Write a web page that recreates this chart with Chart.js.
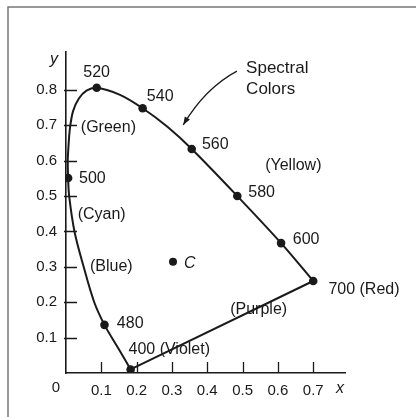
<!DOCTYPE html>
<html><head><meta charset="utf-8">
<script src="https://cdn.jsdelivr.net/npm/chart.js@4/dist/chart.umd.min.js"></script>
<style>html,body{margin:0;padding:0;background:#fff;}</style>
</head><body>
<canvas id="c" width="416" height="417" style="width:416px;height:417px;display:block"></canvas>
<script>
// Spectral locus (from 400 nm through 480, 500, 520 ... to 700 nm)
const locusX = [0.183, 0.148, 0.109, 0.080, 0.050, 0.024, 0.009, 0.006, 0.005, 0.007, 0.011, 0.020, 0.036, 0.058, 0.087, 0.153, 0.217, 0.288, 0.356, 0.485, 0.609, 0.700];
const locusY = [0.010, 0.070, 0.136, 0.200, 0.300, 0.400, 0.500, 0.551, 0.600, 0.640, 0.690, 0.740, 0.775, 0.798, 0.806, 0.786, 0.748, 0.695, 0.633, 0.500, 0.367, 0.260];
// Purple line (700 nm back to 400 nm)
const purpleX = [0.700, 0.183];
const purpleY = [0.260, 0.010];
// Marked wavelengths
const markWl = ['400', '480', '500', '520', '540', '560', '580', '600', '700'];
const markX = [0.183, 0.109, 0.006, 0.087, 0.217, 0.356, 0.485, 0.609, 0.700];
const markY = [0.010, 0.136, 0.551, 0.806, 0.748, 0.633, 0.500, 0.367, 0.260];
// Illuminant C
const cX = [0.303];
const cY = [0.314];
// Axis ticks
const xTicks = [0.1, 0.2, 0.3, 0.4, 0.5, 0.6, 0.7];
const xTickLabels = ['0.1', '0.2', '0.3', '0.4', '0.5', '0.6', '0.7'];
const yTicks = [0.1, 0.2, 0.3, 0.4, 0.5, 0.6, 0.7, 0.8];
const yTickLabels = ['0.1', '0.2', '0.3', '0.4', '0.5', '0.6', '0.7', '0.8'];
// Text labels (anchored at left edge, vertical middle, in data units)
const labelTexts = ['520', '540', '560', '580', '600', '700 (Red)', '480', '500', '400 (Violet)', '(Purple)', '(Yellow)', '(Cyan)', '(Blue)', '(Green)', 'C', 'Spectral', 'Colors'];
const labelX = [0.049, 0.229, 0.385, 0.516, 0.642, 0.743, 0.144, 0.037, 0.177, 0.465, 0.564, 0.033, 0.068, 0.042, 0.334, 0.510, 0.510];
const labelY = [0.849, 0.781, 0.645, 0.509, 0.378, 0.237, 0.141, 0.548, 0.065, 0.180, 0.585, 0.447, 0.301, 0.693, 0.310, 0.861, 0.802];
// Arrow for "Spectral Colors" (start, control, end in data units)
const arrowX = [0.484, 0.394, 0.332];
const arrowY = [0.853, 0.805, 0.701];

const FONT = "'Liberation Sans', Arial, Helvetica, sans-serif";
const INK = '#1a1a1a';
const pts = (xs, ys) => xs.map((x, i) => ({x: x, y: ys[i]}));

const decor = {
  id: 'decor',
  beforeDraw(chart) {
    const ctx = chart.ctx;
    ctx.save();
    ctx.fillStyle = '#fff';
    ctx.fillRect(0, 0, chart.width, chart.height);
    ctx.strokeStyle = '#777';
    ctx.lineWidth = 1.5;
    ctx.beginPath();
    ctx.moveTo(8, 417);
    ctx.lineTo(8, 7);
    ctx.lineTo(416, 7);
    ctx.stroke();
    ctx.restore();
  },
  afterDraw(chart) {
    const ctx = chart.ctx;
    const xs = chart.scales.x, ys = chart.scales.y;
    const left = chart.chartArea.left, bottom = chart.chartArea.bottom;
    ctx.save();
    ctx.strokeStyle = INK;
    ctx.lineWidth = 1.3;
    ctx.beginPath();
    xTicks.forEach(v => {
      const p = Math.round(xs.getPixelForValue(v)) + 0.5;
      ctx.moveTo(p, bottom); ctx.lineTo(p, bottom - 11);
    });
    yTicks.forEach(v => {
      const p = Math.round(ys.getPixelForValue(v)) + 0.5;
      ctx.moveTo(left - 2, p); ctx.lineTo(left + 11, p);
    });
    ctx.stroke();
    // origin label and axis names
    ctx.fillStyle = INK;
    ctx.textBaseline = 'middle';
    ctx.textAlign = 'center';
    ctx.font = '15px ' + FONT;
    ctx.fillText('0', xs.getPixelForValue(0) - 10, bottom + 15);
    ctx.font = 'italic 16px ' + FONT;
    ctx.fillText('x', xs.getPixelForValue(0.776), bottom + 16);
    ctx.fillText('y', xs.getPixelForValue(0) - 12, ys.getPixelForValue(0.885));
    // text labels
    ctx.textAlign = 'left';
    labelTexts.forEach((t, i) => {
      let f = '16px ' + FONT;
      if (t === 'C') f = 'italic 16px ' + FONT;
      if (t === 'Spectral' || t === 'Colors') f = '17px ' + FONT;
      ctx.font = f;
      ctx.fillText(t, xs.getPixelForValue(labelX[i]), ys.getPixelForValue(labelY[i]));
    });
    // arrow
    const ax = arrowX.map(v => xs.getPixelForValue(v));
    const ay = arrowY.map(v => ys.getPixelForValue(v));
    ctx.lineWidth = 1.2;
    ctx.beginPath();
    ctx.moveTo(ax[0], ay[0]);
    ctx.quadraticCurveTo(ax[1], ay[1], ax[2], ay[2]);
    ctx.stroke();
    const ang = Math.atan2(ay[2] - ay[1], ax[2] - ax[1]);
    const L = 8, W = 3;
    ctx.beginPath();
    ctx.moveTo(ax[2], ay[2]);
    ctx.lineTo(ax[2] - L * Math.cos(ang) + W * Math.sin(ang), ay[2] - L * Math.sin(ang) - W * Math.cos(ang));
    ctx.lineTo(ax[2] - L * Math.cos(ang) - W * Math.sin(ang), ay[2] - L * Math.sin(ang) + W * Math.cos(ang));
    ctx.closePath();
    ctx.fill();
    ctx.restore();
  }
};

new Chart(document.getElementById('c'), {
  type: 'scatter',
  data: {
    datasets: [
      {data: pts(locusX, locusY), showLine: true, borderColor: INK, borderWidth: 2, pointRadius: 0, tension: 0.35, fill: false},
      {data: pts(purpleX, purpleY), showLine: true, borderColor: INK, borderWidth: 2, pointRadius: 0, tension: 0, fill: false},
      {data: pts(markX, markY), showLine: false, pointRadius: 4.3, backgroundColor: INK, borderWidth: 0},
      {data: pts(cX, cY), showLine: false, pointRadius: 4, backgroundColor: INK, borderWidth: 0}
    ]
  },
  options: {
    responsive: false,
    animation: false,
    devicePixelRatio: 1,
    events: [],
    layout: {padding: {left: 0, top: 52, right: 71, bottom: 0}},
    plugins: {legend: {display: false}, tooltip: {enabled: false}},
    scales: {
      x: {
        type: 'linear', min: 0, max: 0.79,
        afterBuildTicks: s => { s.ticks = xTicks.map(v => ({value: v})); },
        afterFit: s => { s.height = 44; },
        grid: {display: false, drawTicks: false},
        border: {display: true, color: INK, width: 1.6},
        ticks: {padding: 9, color: INK, font: {family: FONT, size: 15}, maxRotation: 0, autoSkip: false,
          callback: (v, i) => xTickLabels[i]}
      },
      y: {
        type: 'linear', min: 0, max: 0.907,
        afterBuildTicks: s => { s.ticks = yTicks.map(v => ({value: v})); },
        afterFit: s => { s.width = 66; },
        grid: {display: false, drawTicks: false},
        border: {display: true, color: INK, width: 1.6},
        ticks: {padding: 9, color: INK, font: {family: FONT, size: 15}, autoSkip: false,
          callback: (v, i) => yTickLabels[i]}
      }
    }
  },
  plugins: [decor]
});
</script>
</body></html>
